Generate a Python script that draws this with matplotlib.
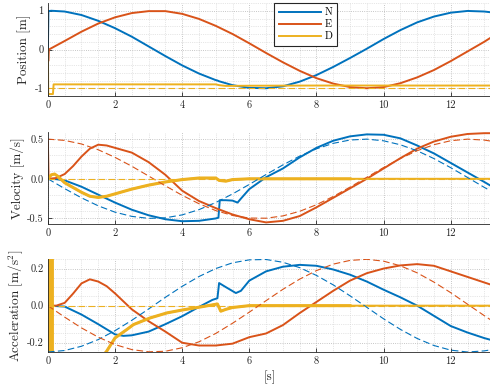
import matplotlib
matplotlib.use("Agg")
import matplotlib.pyplot as plt
import numpy as np
from matplotlib.ticker import MultipleLocator

plt.rcParams['font.family'] = ['cmr10', 'DejaVu Serif']
plt.rcParams['mathtext.fontset'] = 'cm'
plt.rcParams['axes.unicode_minus'] = False
plt.rcParams['axes.formatter.use_mathtext'] = False

C_N = '#0072BD'
C_E = '#D95319'
C_D = '#EDB120'

labels = ['N', 'E', 'D']
x_ticks = [0, 2, 4, 6, 8, 10, 12]

# ---------------- Position ----------------
pos_N_t = [0, 0.015, 0.1, 0.5, 1.0, 1.5, 2.0, 2.5, 3.0, 3.5, 4.0, 4.5, 5.0, 5.05, 5.1, 5.5, 6.0, 6.5,
           7.0, 7.5, 8.0, 8.5, 9.0, 9.5, 10.0, 10.5, 11.0, 11.5, 12.0, 12.5, 13.0, 13.2]
pos_N = [0.0, 0.99, 1.0, 0.98, 0.89, 0.74, 0.55, 0.33, 0.08, -0.17, -0.41, -0.62, -0.79, -0.80, -0.82,
         -0.92, -0.99, -1.0, -0.95, -0.83, -0.66, -0.45, -0.22, 0.02, 0.27, 0.50, 0.70, 0.85, 0.95, 0.995,
         0.98, 0.96]
pos_E_t = [0, 0.01, 0.03, 0.5, 1.0, 1.5, 2.0, 2.5, 3.0, 3.5, 4.0, 4.5, 5.0, 5.5, 6.0, 6.5, 7.0, 7.5,
           8.0, 8.5, 9.0, 9.5, 10.0, 10.5, 11.0, 11.5, 12.0, 12.5, 13.0, 13.2]
pos_E = [0.0, -0.3, 0.0, 0.22, 0.46, 0.67, 0.83, 0.94, 0.99, 0.99, 0.92, 0.79, 0.61, 0.40, 0.16, -0.09,
         -0.33, -0.55, -0.74, -0.88, -0.97, -1.0, -0.97, -0.87, -0.72, -0.53, -0.30, -0.05, 0.2, 0.31]
pos_D_t = [0, 0.01, 0.15, 0.17, 1.0, 2.0, 3.0, 4.0, 5.0, 5.1, 5.3, 6.0, 8.0, 10.0, 12.0, 13.2]
pos_D = [0.0, -1.15, -1.15, -0.9, -0.9, -0.9, -0.9, -0.9, -0.9, -0.92, -0.94, -0.935, -0.93, -0.93,
         -0.93, -0.93]
ref_pos_D_t = [0, 13.2]
ref_pos_D = [-1.0, -1.0]

# ---------------- Velocity ----------------
ref_t = [0, 0.5, 1.0, 1.5, 2.0, 2.5, 3.0, 3.5, 4.0, 4.5, 5.0, 5.5, 6.0, 6.5, 7.0, 7.5, 8.0, 8.5,
         9.0, 9.5, 10.0, 10.5, 11.0, 11.5, 12.0, 12.5, 13.0, 13.2]
ref_vel_N = [0.0, -0.124, -0.240, -0.341, -0.421, -0.474, -0.499, -0.492, -0.455, -0.389, -0.299,
             -0.191, -0.071, 0.054, 0.175, 0.286, 0.378, 0.447, 0.489, 0.500, 0.479, 0.429, 0.353,
             0.255, 0.140, 0.017, -0.108, -0.156]
ref_vel_E = [0.5, 0.484, 0.439, 0.366, 0.270, 0.158, 0.035, -0.089, -0.208, -0.314, -0.401, -0.462,
             -0.495, -0.497, -0.468, -0.410, -0.327, -0.223, -0.105, 0.019, 0.142, 0.256, 0.354,
             0.430, 0.480, 0.500, 0.488, 0.475]
ref_vel_D = [0.0] * len(ref_t)

vel_N_t = [0, 0.25, 0.5, 0.75, 1.0, 1.25, 1.5, 2.0, 2.5, 3.0, 3.5, 4.0, 4.5, 5.0, 5.08, 5.12, 5.3,
           5.5, 5.65, 5.75, 6.0, 6.5, 7.0, 7.5, 8.0, 8.5, 9.0, 9.5, 10.0, 10.5, 11.0, 11.5, 12.0,
           12.5, 13.0, 13.2]
vel_N = [0.0, -0.005, -0.02, -0.06, -0.10, -0.15, -0.20, -0.30, -0.39, -0.46, -0.51, -0.535, -0.53,
         -0.50, -0.49, -0.27, -0.27, -0.275, -0.30, -0.25, -0.13, 0.02, 0.13, 0.27, 0.39, 0.48, 0.535,
         0.56, 0.555, 0.51, 0.42, 0.32, 0.20, 0.08, -0.04, -0.09]
vel_E_t = [0, 0.02, 0.25, 0.5, 0.75, 1.0, 1.25, 1.5, 1.75, 2.0, 2.5, 3.0, 3.5, 4.0, 4.5, 5.0, 5.5,
           6.0, 6.5, 7.0, 7.5, 8.0, 8.5, 9.0, 9.5, 10.0, 10.5, 11.0, 11.5, 12.0, 12.5, 13.0, 13.2]
vel_E = [0.47, 0.0, 0.01, 0.06, 0.16, 0.28, 0.38, 0.43, 0.42, 0.39, 0.33, 0.21, 0.05, -0.15, -0.28,
         -0.37, -0.45, -0.51, -0.55, -0.53, -0.47, -0.36, -0.24, -0.12, 0.0, 0.13, 0.26, 0.38, 0.47,
         0.53, 0.565, 0.575, 0.575]
vel_D_t = [0, 0.1, 0.2, 0.3, 0.5, 0.75, 1.0, 1.25, 1.5, 1.75, 2.0, 2.5, 3.0, 3.5, 4.0, 4.5, 5.0, 5.1,
           5.3, 5.5, 6.0, 7.0, 8.0, 9.0, 10.0, 11.0, 12.0, 13.2]
vel_D = [0.0, 0.05, 0.06, 0.03, -0.05, -0.11, -0.17, -0.22, -0.235, -0.22, -0.19, -0.13, -0.08, -0.04,
         -0.01, 0.01, 0.01, -0.02, -0.03, -0.01, 0.0, 0.0, 0.0, 0.0, 0.0, 0.0, 0.0, 0.0]

# ---------------- Acceleration ----------------
ref_acc_N = [-0.25, -0.242, -0.219, -0.183, -0.135, -0.079, -0.018, 0.045, 0.104, 0.157, 0.200, 0.231,
             0.247, 0.249, 0.234, 0.205, 0.163, 0.112, 0.053, -0.009, -0.071, -0.128, -0.177, -0.215,
             -0.240, -0.250, -0.244, -0.238]
ref_acc_E = [0.0, -0.062, -0.120, -0.170, -0.210, -0.237, -0.249, -0.246, -0.227, -0.195, -0.150,
             -0.095, -0.035, 0.027, 0.088, 0.143, 0.189, 0.224, 0.244, 0.250, 0.240, 0.215, 0.177,
             0.127, 0.070, 0.008, -0.054, -0.078]
ref_acc_D = [0.0] * len(ref_t)

acc_N_t = [0, 0.02, 0.5, 1.0, 1.5, 2.0, 2.25, 2.5, 3.0, 3.5, 4.0, 4.5, 4.9, 5.05, 5.1, 5.3, 5.6,
           5.75, 6.0, 6.5, 7.0, 7.5, 8.0, 8.5, 9.0, 9.5, 10.0, 10.5, 11.0, 11.5, 12.0, 12.5, 13.0, 13.2]
acc_N = [-0.5, 0.0, -0.005, -0.048, -0.10, -0.155, -0.163, -0.16, -0.14, -0.10, -0.057, -0.007, 0.031,
         0.04, 0.122, 0.10, 0.068, 0.08, 0.135, 0.185, 0.21, 0.22, 0.215, 0.195, 0.167, 0.13, 0.086,
         0.045, 0.0, -0.055, -0.11, -0.145, -0.175, -0.185]
acc_E_t = [0, 0.02, 0.25, 0.5, 0.75, 1.0, 1.25, 1.5, 1.75, 2.0, 2.5, 3.0, 3.5, 4.0, 4.5, 5.0, 5.5, 6.0,
           6.5, 7.0, 7.5, 8.0, 8.5, 9.0, 9.5, 10.0, 10.5, 11.0, 11.5, 12.0, 12.5, 13.0, 13.2]
acc_E = [0.5, 0.0, 0.0, 0.015, 0.065, 0.12, 0.142, 0.13, 0.105, 0.066, -0.02, -0.084, -0.14, -0.2,
         -0.215, -0.215, -0.205, -0.17, -0.15, -0.105, -0.04, 0.02, 0.08, 0.135, 0.175, 0.2, 0.217,
         0.224, 0.215, 0.185, 0.155, 0.125, 0.113]
acc_D_t = [0, 0.04, 0.06, 0.08, 0.10, 0.12, 0.14, 0.16, 0.5, 1.0, 1.5, 1.75, 2.0, 2.35, 2.55, 3.05,
           3.55, 4.05, 4.55, 5.05, 5.15, 5.3, 5.5, 6.0, 7.0, 8.0, 9.0, 10.0, 11.0, 12.0, 13.2]
acc_D = [0.0, 1.0, -1.0, 1.0, -1.0, 1.0, -1.0, -0.8, -0.6, -0.45, -0.3, -0.246, -0.174, -0.129, -0.102,
         -0.066, -0.039, -0.022, -0.007, 0.009, -0.03, -0.02, -0.01, 0.0, 0.0, 0.0, 0.0, 0.0, 0.0, 0.0,
         0.0]

fig = plt.figure(figsize=(4.9, 3.87), dpi=100)
L = 47.9 / 490
W = 1 - L
ax1 = fig.add_axes([L, 1 - 96 / 387, W, 93 / 387])
ax2 = fig.add_axes([L, 1 - 224 / 387, W, 92 / 387])
ax3 = fig.add_axes([L, 1 - 352 / 387, W, 92.7 / 387])

LW = 1.4
LWD = 0.8


def style(ax, ylim, yticks, ymin, ylabel, lab_x):
    ax.set_xlim(0, 13.17)
    ax.set_ylim(*ylim)
    ax.set_xticks(x_ticks)
    ax.set_yticks(yticks)
    ax.xaxis.set_minor_locator(MultipleLocator(0.5))
    ax.yaxis.set_minor_locator(MultipleLocator(ymin))
    ax.grid(which='major', linestyle=':', color='#b4b4b4', linewidth=0.6)
    ax.grid(which='minor', linestyle=':', color='#cfcfcf', linewidth=0.5)
    ax.set_axisbelow(True)
    for s in ['top', 'right']:
        ax.spines[s].set_visible(False)
    for s in ['left', 'bottom']:
        ax.spines[s].set_color('#262626')
        ax.spines[s].set_linewidth(0.6)
    ax.tick_params(which='major', direction='in', length=3, width=0.6, colors='#262626',
                   labelsize=7.5, pad=3)
    ax.tick_params(which='minor', length=0)
    ax.set_ylabel(ylabel, fontsize=9.5, color='#262626')
    ax.yaxis.set_label_coords(lab_x, 0.5)


# Position
l1, = ax1.plot(pos_N_t, pos_N, color=C_N, lw=LW, label=labels[0])
l2, = ax1.plot(pos_E_t, pos_E, color=C_E, lw=LW, label=labels[1])
l3, = ax1.plot(pos_D_t, pos_D, color=C_D, lw=LW, label=labels[2])
ax1.plot(ref_pos_D_t, ref_pos_D, color=C_D, lw=LWD, ls=(0, (6, 3)))
style(ax1, (-1.2, 1.2), [-1, 0, 1], 0.2, 'Position [m]', -0.038)
leg = ax1.legend(handles=[l1, l2, l3], loc='upper left', bbox_to_anchor=(0.512, 1.0),
                 fontsize=7.5, frameon=True, fancybox=False, framealpha=1.0,
                 edgecolor='#262626', handlelength=4.0, handletextpad=0.4, labelspacing=0.25,
                 borderpad=0.45, borderaxespad=0.0)
leg.get_frame().set_linewidth(0.8)

# Velocity
ax2.plot(vel_N_t, vel_N, color=C_N, lw=LW)
ax2.plot(vel_E_t, vel_E, color=C_E, lw=LW)
vDt = np.array(vel_D_t)
ax2.plot(vel_D_t, vel_D, color=C_D, lw=LW)
m = vDt <= 9.0
ax2.plot(vDt[m], np.array(vel_D)[m], color=C_D, lw=2.2)
ax2.plot(ref_t, ref_vel_N, color=C_N, lw=LWD, ls=(0, (6, 3)))
ax2.plot(ref_t, ref_vel_E, color=C_E, lw=LWD, ls=(0, (6, 3)))
ax2.plot(ref_t, ref_vel_D, color=C_D, lw=LWD, ls=(0, (6, 3)))
style(ax2, (-0.57, 0.59), [-0.5, 0, 0.5], 0.1, 'Velocity [m/s]', -0.052)

# Acceleration
ax3.plot(acc_N_t, acc_N, color=C_N, lw=LW)
ax3.plot(acc_E_t, acc_E, color=C_E, lw=LW)
aDt = np.array(acc_D_t)
ax3.plot(acc_D_t, acc_D, color=C_D, lw=LW)
m = aDt <= 9.5
ax3.plot(aDt[m], np.array(acc_D)[m], color=C_D, lw=2.2)
ax3.plot(ref_t, ref_acc_N, color=C_N, lw=LWD, ls=(0, (6, 3)))
ax3.plot(ref_t, ref_acc_E, color=C_E, lw=LWD, ls=(0, (6, 3)))
ax3.plot(ref_t, ref_acc_D, color=C_D, lw=LWD, ls=(0, (6, 3)))
style(ax3, (-0.25, 0.25), [-0.2, 0, 0.2], 0.05, 'Acceleration [m/s$^2$]', -0.052)
ax3.set_xlabel('[s]', fontsize=9.5, color='#262626')
ax3.xaxis.set_label_coords(0.5025, -0.2)
ax3.xaxis.label.set_va('top')

fig.savefig('out.png', dpi=100)
